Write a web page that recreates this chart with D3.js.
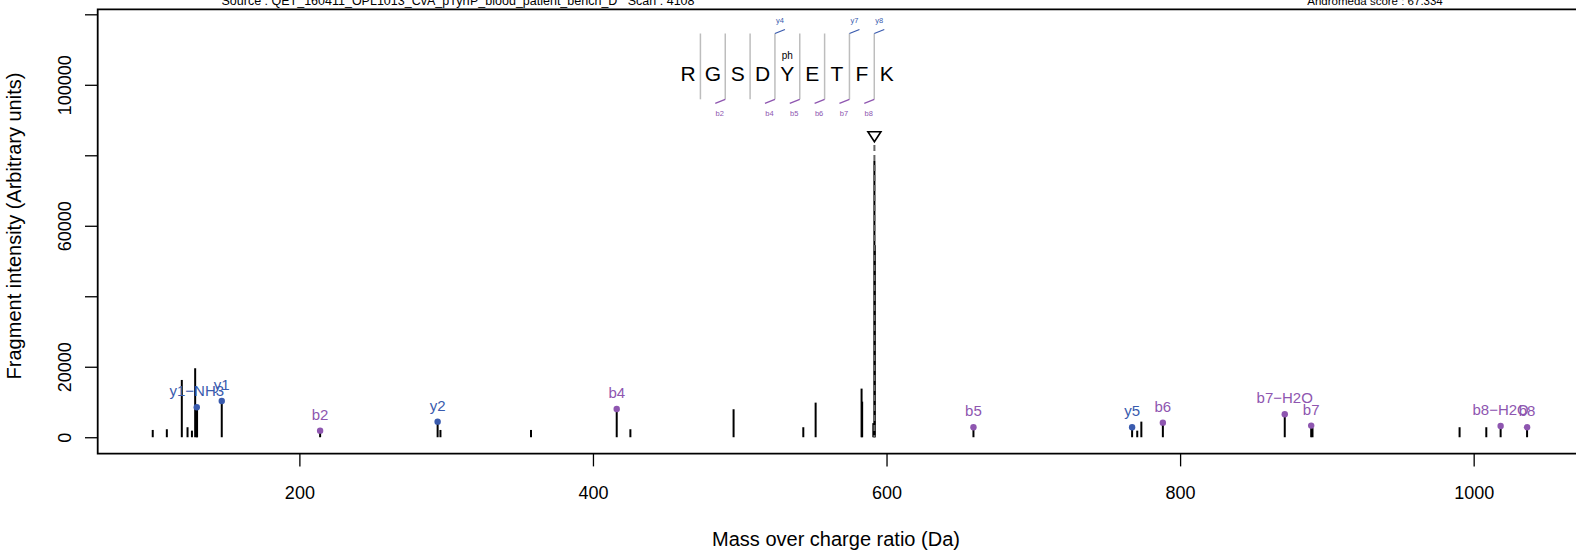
<!DOCTYPE html>
<html><head><meta charset="utf-8">
<script src="https://cdn.jsdelivr.net/npm/d3@7"></script>
<style>
body{margin:0;background:#fff;}
text{font-family:"Liberation Sans",Arial,Helvetica,sans-serif;}
</style></head>
<body><svg id="c" width="1576" height="550"></svg>
<script>
// ---- data ----
const peakMz  = [100.1, 109.7, 119.9, 123.8, 126.8, 129.0, 130.3, 296.1, 357.8, 425.5, 495.8, 543.3, 551.7, 583.0, 583.4, 591.0, 592.0, 770.8, 773.6, 890.2, 990.4, 1008.6];
const peakInt = [2070, 2270, 16255, 2840, 1870, 19575, 8000, 2070, 2070, 2270, 7940, 2840, 9820, 13800, 10100, 4000, 54500, 1870, 4430, 2600, 2840, 2840];
const precursorMz = 591.745;
const precursorInt = 78400;
const ionLabels = ["y1\u2212NH3", "y1", "b2", "y2", "b4", "b5", "y5", "b6", "b7\u2212H2O", "b7", "b8\u2212H2O", "b8"];
const ionMz  = [130.086, 147.113, 214.130, 294.181, 416.189, 659.218, 767.301, 788.261, 871.298, 889.309, 1018.367, 1036.377];
const ionInt = [8510, 10300, 1870, 4425, 8030, 2840, 2840, 4140, 6520, 3300, 3200, 2840];
const ionType = ["y", "y", "b", "y", "b", "b", "y", "b", "b", "b", "b", "b"];
const xTicks = [200, 400, 600, 800, 1000];
const yTicks = [0, 20000, 40000, 60000, 80000, 100000, 120000];
const yTickLabels = ["0", "20000", "", "60000", "", "100000", ""];
const sequence = ["R", "G", "S", "D", "Y", "E", "T", "F", "K"];
const bSites = [2, 4, 5, 6, 7, 8];
const bNames = ["b2", "b4", "b5", "b6", "b7", "b8"];
const ySites = [4, 7, 8];
const yNames = ["y4", "y7", "y8"];
const modSites = [5];
const modNames = ["ph"];
const sourceText = "Source : QET_160411_OPL1013_CvA_pTyrIP_blood_patient_bench_D   Scan : 4108";
const scoreText = "Andromeda score : 67.334";

// ---- layout ----
const colB = "#8E56B0", colY = "#3A5BAE";
const L = 97.7, R = 1582, T = 9.3, B = 453.7;
const svg = d3.select("#c");
const x = d3.scaleLinear().domain([62.6, 1073.8]).range([L, R]);
const y = d3.scaleLinear().domain([-4670, 121420]).range([B, T]);

// header texts
svg.append("text").attr("x", 458).attr("y", 4.5).attr("text-anchor", "middle")
  .attr("font-size", 12.5).style("white-space", "pre").text(sourceText);
svg.append("text").attr("x", 1375).attr("y", 4.5).attr("text-anchor", "middle")
  .attr("font-size", 11.5).text(scoreText);

// axes
const xa = svg.append("g").attr("transform", `translate(0,${B})`)
  .call(d3.axisBottom(x).tickValues(xTicks).tickSize(12.7).tickFormat(d3.format("d")));
xa.select(".domain").remove();
xa.selectAll("line").attr("stroke", "#000").attr("stroke-width", 1.3);
xa.selectAll("text").attr("font-size", 18).attr("fill", "#000").attr("dy", null).attr("y", 45);

const ya = svg.append("g").attr("transform", `translate(${L},0)`)
  .call(d3.axisLeft(y).tickValues(yTicks).tickSize(12.7).tickFormat((d, i) => yTickLabels[i]));
ya.select(".domain").remove();
ya.selectAll("line").attr("stroke", "#000").attr("stroke-width", 1.3);
ya.selectAll("text").attr("font-size", 18).attr("fill", "#000")
  .attr("x", null).attr("dy", null).attr("text-anchor", "middle")
  .attr("transform", "translate(-27,0) rotate(-90)");

// box (left, top, bottom)
svg.append("path").attr("d", `M${R},${T}H${L}V${B}H${R}`).attr("fill", "none")
  .attr("stroke", "#000").attr("stroke-width", 1.8);

// axis titles
svg.append("text").attr("x", 836).attr("y", 546).attr("text-anchor", "middle")
  .attr("font-size", 20).text("Mass over charge ratio (Da)");
svg.append("text").attr("transform", "translate(21,226) rotate(-90)").attr("text-anchor", "middle")
  .attr("font-size", 20).text("Fragment intensity (Arbitrary units)");

// peaks
const g = svg.append("g");
g.selectAll("line.pk").data(peakMz).join("line").attr("class", "pk")
  .attr("x1", d => x(d)).attr("x2", d => x(d))
  .attr("y1", y(0)).attr("y2", (d, i) => y(peakInt[i]))
  .attr("stroke", "#000").attr("stroke-width", 2);
g.append("line").attr("x1", x(precursorMz)).attr("x2", x(precursorMz))
  .attr("y1", y(0)).attr("y2", y(precursorInt)).attr("stroke", "#000").attr("stroke-width", 2);
g.selectAll("line.ion").data(ionMz).join("line").attr("class", "ion")
  .attr("x1", d => x(d)).attr("x2", d => x(d))
  .attr("y1", y(0)).attr("y2", (d, i) => y(ionInt[i]))
  .attr("stroke", "#000").attr("stroke-width", 2);
// precursor marker
g.append("line").attr("x1", x(precursorMz)).attr("x2", x(precursorMz))
  .attr("y1", 145).attr("y2", y(0)).attr("stroke", "#666").attr("stroke-width", 2)
  .attr("stroke-dasharray", "6,4");
const px = x(precursorMz);
g.append("path").attr("d", `M${px - 6.5},${131.7}H${px + 6.5}L${px},${141.7}Z`)
  .attr("fill", "none").attr("stroke", "#000").attr("stroke-width", 1.6);

// ion markers and labels
g.selectAll("circle.ion").data(ionMz).join("circle").attr("class", "ion")
  .attr("cx", d => x(d)).attr("cy", (d, i) => y(ionInt[i])).attr("r", 3.2)
  .attr("fill", (d, i) => ionType[i] === "b" ? colB : colY);
g.selectAll("text.ion").data(ionLabels).join("text").attr("class", "ion")
  .attr("x", (d, i) => x(ionMz[i])).attr("y", (d, i) => y(ionInt[i]) - 11)
  .attr("text-anchor", "middle").attr("font-size", 15)
  .attr("fill", (d, i) => ionType[i] === "b" ? colB : colY).text(d => d);

// peptide sequence annotation
const sx = d3.scaleLinear().domain([0, sequence.length - 1]).range([688, 886.7]);
const step = sx(1) - sx(0);
const sepX = k => sx(k - 1) + step / 2;   // separator after residue k (1-based)
const seqTop = 33.5, seqBot = 99.3;
const sg = svg.append("g");
sg.selectAll("line.sep").data(d3.range(1, sequence.length)).join("line").attr("class", "sep")
  .attr("x1", d => sepX(d)).attr("x2", d => sepX(d)).attr("y1", seqTop).attr("y2", seqBot)
  .attr("stroke", "#bdbdbd").attr("stroke-width", 1.5);
sg.selectAll("text.res").data(sequence).join("text").attr("class", "res")
  .attr("x", (d, i) => sx(i)).attr("y", 80.5).attr("text-anchor", "middle")
  .attr("font-size", 21).text(d => d);
sg.selectAll("text.mod").data(modSites).join("text").attr("class", "mod")
  .attr("x", d => sx(d - 1)).attr("y", 58.5).attr("text-anchor", "middle")
  .attr("font-size", 10).text((d, i) => modNames[i]);
sg.selectAll("line.bs").data(bSites).join("line").attr("class", "bs")
  .attr("x1", d => sepX(d) - 10).attr("y1", seqBot + 4).attr("x2", d => sepX(d)).attr("y2", seqBot)
  .attr("stroke", colB).attr("stroke-width", 1.3);
sg.selectAll("text.bs").data(bSites).join("text").attr("class", "bs")
  .attr("x", d => sepX(d) - 5.5).attr("y", 116).attr("text-anchor", "middle")
  .attr("font-size", 7.5).attr("fill", colB).text((d, i) => bNames[i]);
sg.selectAll("line.ys").data(ySites).join("line").attr("class", "ys")
  .attr("x1", d => sepX(d)).attr("y1", seqTop).attr("x2", d => sepX(d) + 10).attr("y2", seqTop - 4)
  .attr("stroke", colY).attr("stroke-width", 1.3);
sg.selectAll("text.ys").data(ySites).join("text").attr("class", "ys")
  .attr("x", d => sepX(d) + 5).attr("y", 22.5).attr("text-anchor", "middle")
  .attr("font-size", 7.5).attr("fill", colY).text((d, i) => yNames[i]);
</script></body></html>
